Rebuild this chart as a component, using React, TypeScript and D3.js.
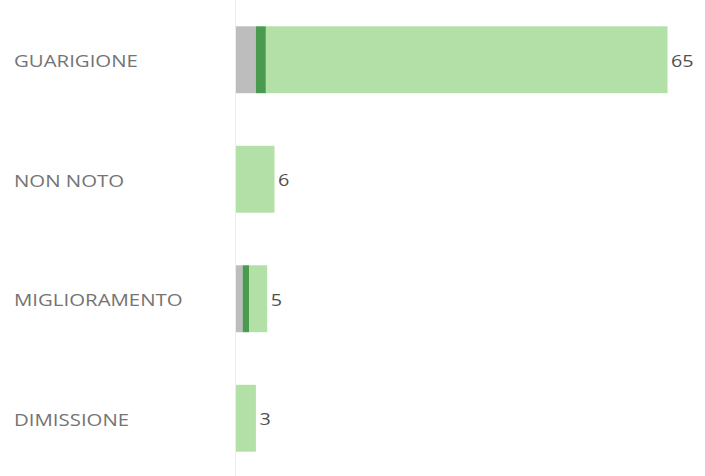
import React from "react";
import * as d3 from "d3";

const categories = ["GUARIGIONE", "NON NOTO", "MIGLIORAMENTO", "DIMISSIONE"];
const greyValues = [3, 0, 1, 0];
const darkGreenValues = [1.5, 0, 1, 0];
const lightGreenValues = [60.5, 5.8, 2.7, 3];
const totalLabels = ["65", "6", "5", "3"];

const seriesKeys = ["grey", "dark", "light"];
const seriesColors: Record<string, string> = {
  grey: "#bdbdbd",
  dark: "#4a9a50",
  light: "#b3e0a6",
};

const W = 705;
const H = 476;
const axisX = 236;
const SX = 1.2;

export default function App() {
  const rows = categories.map((c, i) => ({
    cat: c,
    grey: greyValues[i],
    dark: darkGreenValues[i],
    light: lightGreenValues[i],
  }));
  const stack = d3.stack<any>().keys(seriesKeys)(rows);
  const x = d3.scaleLinear().domain([0, 65]).range([axisX, 667.5]);
  const y = d3
    .scaleBand<string>()
    .domain(categories)
    .range([0, 478])
    .paddingInner(0.44)
    .paddingOuter(0.22);

  return (
    <svg
      width={W}
      height={H}
      style={{ position: "absolute", left: 0, top: 0, background: "#fff" }}
      fontFamily="'Open Sans', sans-serif"
    >
      <line x1={axisX - 0.5} x2={axisX - 0.5} y1={0} y2={H} stroke="#ececec" strokeWidth={1} />
      {stack.map((s) => (
        <g key={s.key} fill={seriesColors[s.key]}>
          {s.map((d, i) =>
            d[1] - d[0] > 0 ? (
              <rect
                key={i}
                x={x(d[0])}
                width={x(d[1]) - x(d[0])}
                y={y(categories[i])!}
                height={y.bandwidth()}
              />
            ) : null
          )}
        </g>
      ))}
      {categories.map((c) => (
        <text
          key={c}
          transform={`translate(14,${y(c)! + y.bandwidth() / 2 + 1.5}) scale(${SX},1)`}
          dy="0.35em"
          fontSize={17}
          fill="#747474"
        >
          {c}
        </text>
      ))}
      {categories.map((c, i) => {
        const end = stack[stack.length - 1][i][1];
        return (
          <text
            key={c + "v"}
            transform={`translate(${x(end) + 3.5},${y(c)! + y.bandwidth() / 2 + 1}) scale(${SX},1)`}
            dy="0.35em"
            fontSize={16.5}
            fill="#505050"
          >
            {totalLabels[i]}
          </text>
        );
      })}
    </svg>
  );
}
